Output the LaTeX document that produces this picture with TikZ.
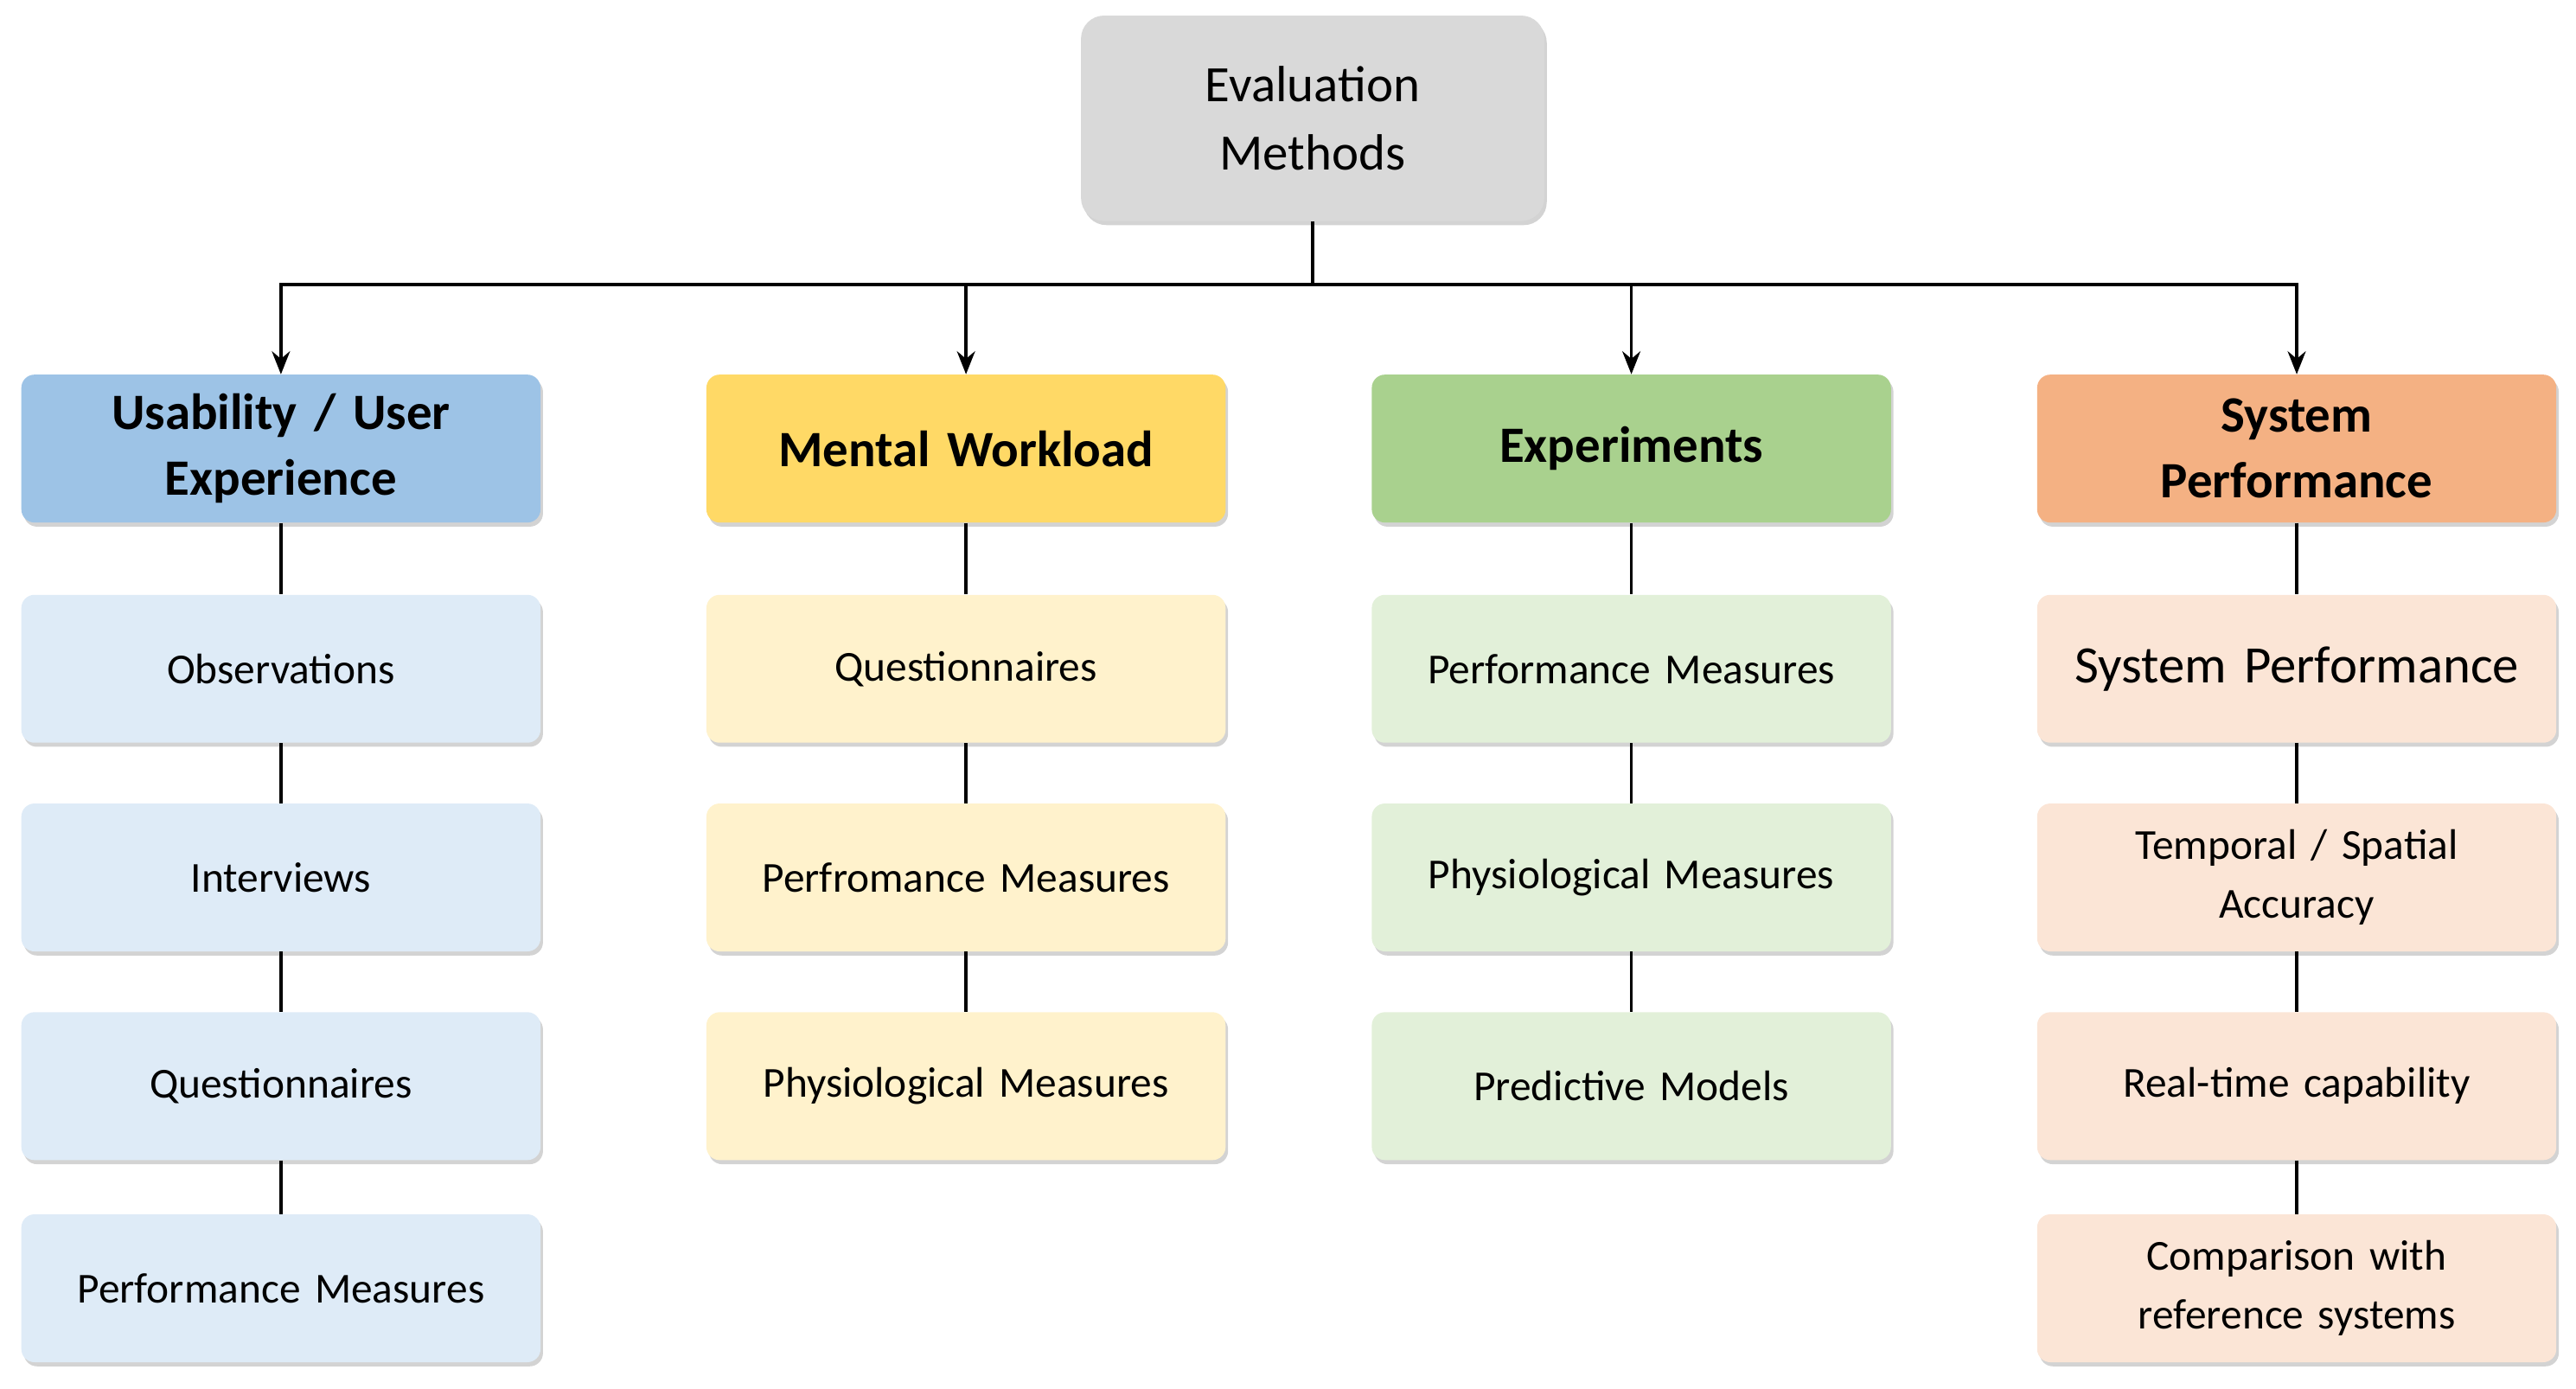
\documentclass[tikz,border=0pt]{standalone}
\usepackage{fontspec}
\setmainfont{Carlito}
\usetikzlibrary{shadows,arrows.meta}
\definecolor{gr}{HTML}{D9D9D9}
\definecolor{bH}{HTML}{9DC3E6}\definecolor{bL}{HTML}{DEEBF7}
\definecolor{yH}{HTML}{FFD966}\definecolor{yL}{HTML}{FFF2CC}
\definecolor{gH}{HTML}{A9D18E}\definecolor{gL}{HTML}{E2F0D9}
\definecolor{oH}{HTML}{F4B183}\definecolor{oL}{HTML}{FBE5D6}
\begin{document}
\begin{tikzpicture}[x=1pt,y=-1pt,
 box/.style={rounded corners=8pt,minimum width=316pt,minimum height=90pt,align=center,draw=none,
   drop shadow={shadow xshift=1.5pt,shadow yshift=-2.5pt,opacity=0.35},font=\fontsize{26}{30}\selectfont,text width=300pt},
 hd/.style={box,font=\bfseries\fontsize{31}{40}\selectfont},
 ln/.style={line width=2pt},
 ar/.style={ln,-{Stealth[length=14pt,width=11pt]}}]
\useasboundingbox (0,0) rectangle (1568,845);
\node[box,fill=gr,minimum width=282pt,minimum height=125pt,text width=260pt,rounded corners=14pt,font=\fontsize{31}{42}\selectfont] (root) at (799,72) {Evaluation\\Methods};
\node[hd,fill=bH] (h1) at (171,273) {Usability / User\\Experience};
\node[hd,fill=yH] (h2) at (588,273) {Mental Workload};
\node[hd,fill=gH] (h3) at (993,273) {Experiments};
\node[hd,fill=oH] (h4) at (1398,273) {System\\Performance};
\node[box,fill=bL] (a1) at (171,407) {Observations};
\node[box,fill=bL] (a2) at (171,534) {Interviews};
\node[box,fill=bL] (a3) at (171,661) {Questionnaires};
\node[box,fill=bL] (a4) at (171,784) {Performance Measures};
\node[box,fill=yL] (b1) at (588,407) {Questionnaires};
\node[box,fill=yL] (b2) at (588,534) {Perfromance Measures};
\node[box,fill=yL] (b3) at (588,661) {Physiological Measures};
\node[box,fill=gL] (c1) at (993,407) {Performance Measures};
\node[box,fill=gL] (c2) at (993,534) {Physiological Measures};
\node[box,fill=gL] (c3) at (993,661) {Predictive Models};
\node[box,fill=oL,font=\fontsize{32}{36}\selectfont] (d1) at (1398,407) {System Performance};
\node[box,fill=oL,font=\fontsize{26}{36}\selectfont] (d2) at (1398,534) {Temporal / Spatial\\Accuracy};
\node[box,fill=oL] (d3) at (1398,661) {Real-time capability};
\node[box,fill=oL,font=\fontsize{26}{36}\selectfont] (d4) at (1398,784) {Comparison with\\reference systems};
\draw[ln] (root.south) -- (799,173) coordinate (j);
\coordinate (jl) at (171,173); \coordinate (jr) at (1398,173);
\draw[ln] (jl) -- (jr);
\foreach \h in {h1,h2,h3,h4} \draw[ar] (j) -| (\h.north);
\draw[ln] (h1)--(a1) (a1)--(a2) (a2)--(a3) (a3)--(a4);
\draw[ln] (h2)--(b1) (b1)--(b2) (b2)--(b3);
\draw[ln] (h3)--(c1) (c1)--(c2) (c2)--(c3);
\draw[ln] (h4)--(d1) (d1)--(d2) (d2)--(d3) (d3)--(d4);
\end{tikzpicture}
\end{document}
